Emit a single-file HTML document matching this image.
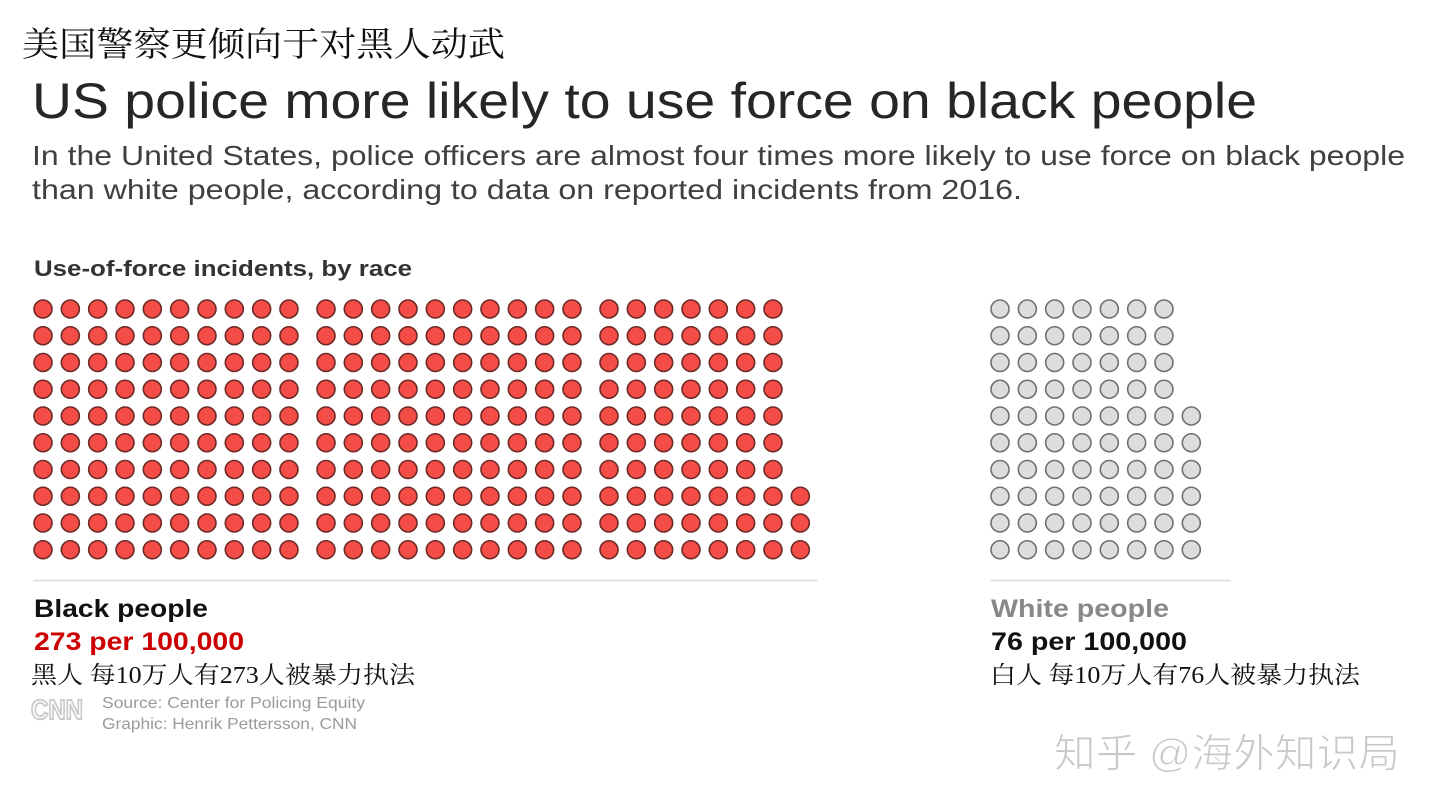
<!DOCTYPE html>
<html><head><meta charset="utf-8"><style>
html,body{margin:0;padding:0;background:#fff;}
svg{display:block;}
</style></head><body>
<svg id="chart" width="1440" height="810" viewBox="0 0 1440 810" xmlns="http://www.w3.org/2000/svg">
<text x="22" y="56" font-family="'Liberation Serif','Noto Serif CJK SC',serif" font-size="34" fill="#111" textLength="483" lengthAdjust="spacingAndGlyphs">美国警察更倾向于对黑人动武</text>
<text x="32" y="118" font-family="'Liberation Sans',sans-serif" font-size="50" fill="#262626" textLength="1225" lengthAdjust="spacingAndGlyphs">US police more likely to use force on black people</text>
<text x="32" y="165" font-family="'Liberation Sans',sans-serif" font-size="28" fill="#404040" textLength="1373" lengthAdjust="spacingAndGlyphs">In the United States, police officers are almost four times more likely to use force on black people</text>
<text x="32" y="199" font-family="'Liberation Sans',sans-serif" font-size="28" fill="#404040" textLength="990" lengthAdjust="spacingAndGlyphs">than white people, according to data on reported incidents from 2016.</text>
<text x="34" y="276" font-family="'Liberation Sans',sans-serif" font-size="22" font-weight="bold" fill="#333" textLength="378" lengthAdjust="spacingAndGlyphs">Use-of-force incidents, by race</text>
<g id="dots"></g>
<line x1="33" y1="580.5" x2="818" y2="580.5" stroke="#ddd" stroke-width="1.5"/>
<line x1="990" y1="580.5" x2="1231" y2="580.5" stroke="#ddd" stroke-width="1.5"/>
<text x="34" y="617" font-family="'Liberation Sans',sans-serif" font-size="25" font-weight="bold" fill="#111" textLength="174" lengthAdjust="spacingAndGlyphs">Black people</text>
<text x="34" y="650" font-family="'Liberation Sans',sans-serif" font-size="25" font-weight="bold" fill="#cc0000" textLength="210" lengthAdjust="spacingAndGlyphs">273 per 100,000</text>
<text x="31" y="683" font-family="'Liberation Serif','Noto Serif CJK SC',serif" font-size="24" fill="#111" textLength="384" lengthAdjust="spacingAndGlyphs">黑人 每10万人有273人被暴力执法</text>
<text x="31" y="719" font-family="'Liberation Sans',sans-serif" font-size="28" font-weight="bold" fill="none" stroke="#ccc" stroke-width="2" textLength="52" lengthAdjust="spacingAndGlyphs">CNN</text>
<text x="102" y="708" font-family="'Liberation Sans',sans-serif" font-size="16" fill="#9a9a9a" textLength="263" lengthAdjust="spacingAndGlyphs">Source: Center for Policing Equity</text>
<text x="102" y="729" font-family="'Liberation Sans',sans-serif" font-size="16" fill="#9a9a9a" textLength="255" lengthAdjust="spacingAndGlyphs">Graphic: Henrik Pettersson, CNN</text>
<text x="991" y="617" font-family="'Liberation Sans',sans-serif" font-size="25" font-weight="bold" fill="#888" textLength="178" lengthAdjust="spacingAndGlyphs">White people</text>
<text x="991" y="650" font-family="'Liberation Sans',sans-serif" font-size="25" font-weight="bold" fill="#111" textLength="196" lengthAdjust="spacingAndGlyphs">76 per 100,000</text>
<text x="990" y="683" font-family="'Liberation Serif','Noto Serif CJK SC',serif" font-size="24" fill="#111" textLength="370" lengthAdjust="spacingAndGlyphs">白人 每10万人有76人被暴力执法</text>
<text x="1054" y="767" font-family="'Liberation Sans','Noto Sans CJK SC',sans-serif" font-size="40" fill="#c8c8c8" stroke="#fff" stroke-width="1" textLength="346" lengthAdjust="spacingAndGlyphs">知乎 @海外知识局</text>
</svg>
<script>
const categories = ['black', 'white'];
const values = [273, 76];
const ROWS = 10, COLS_PER_GROUP = 10, PER_GROUP = 100;
const groupX = [43, 326, 609, 1000];
const startGroup = [0, 3];
const colStep = 27.33, rowStep = 26.75, topY = 309, r = 9;
const fills = ['#f44c46', '#dddddd'], strokes = ['#6e2a26', '#707070'];
const g = document.getElementById('dots');
const NS = 'http://www.w3.org/2000/svg';
categories.forEach((cat, ci) => {
  for (let i = 0; i < values[ci]; i++) {
    const grp = Math.floor(i / PER_GROUP) + startGroup[ci];
    const k = i % PER_GROUP;
    const col = Math.floor(k / ROWS);
    const row = ROWS - 1 - (k % ROWS);
    const c = document.createElementNS(NS, 'circle');
    c.setAttribute('cx', groupX[grp] + col * colStep);
    c.setAttribute('cy', topY + row * rowStep);
    c.setAttribute('r', r);
    c.setAttribute('fill', fills[ci]);
    c.setAttribute('stroke', strokes[ci]);
    c.setAttribute('stroke-width', '1.6');
    
    
    g.appendChild(c);
  }
});
</script>
</body></html>
